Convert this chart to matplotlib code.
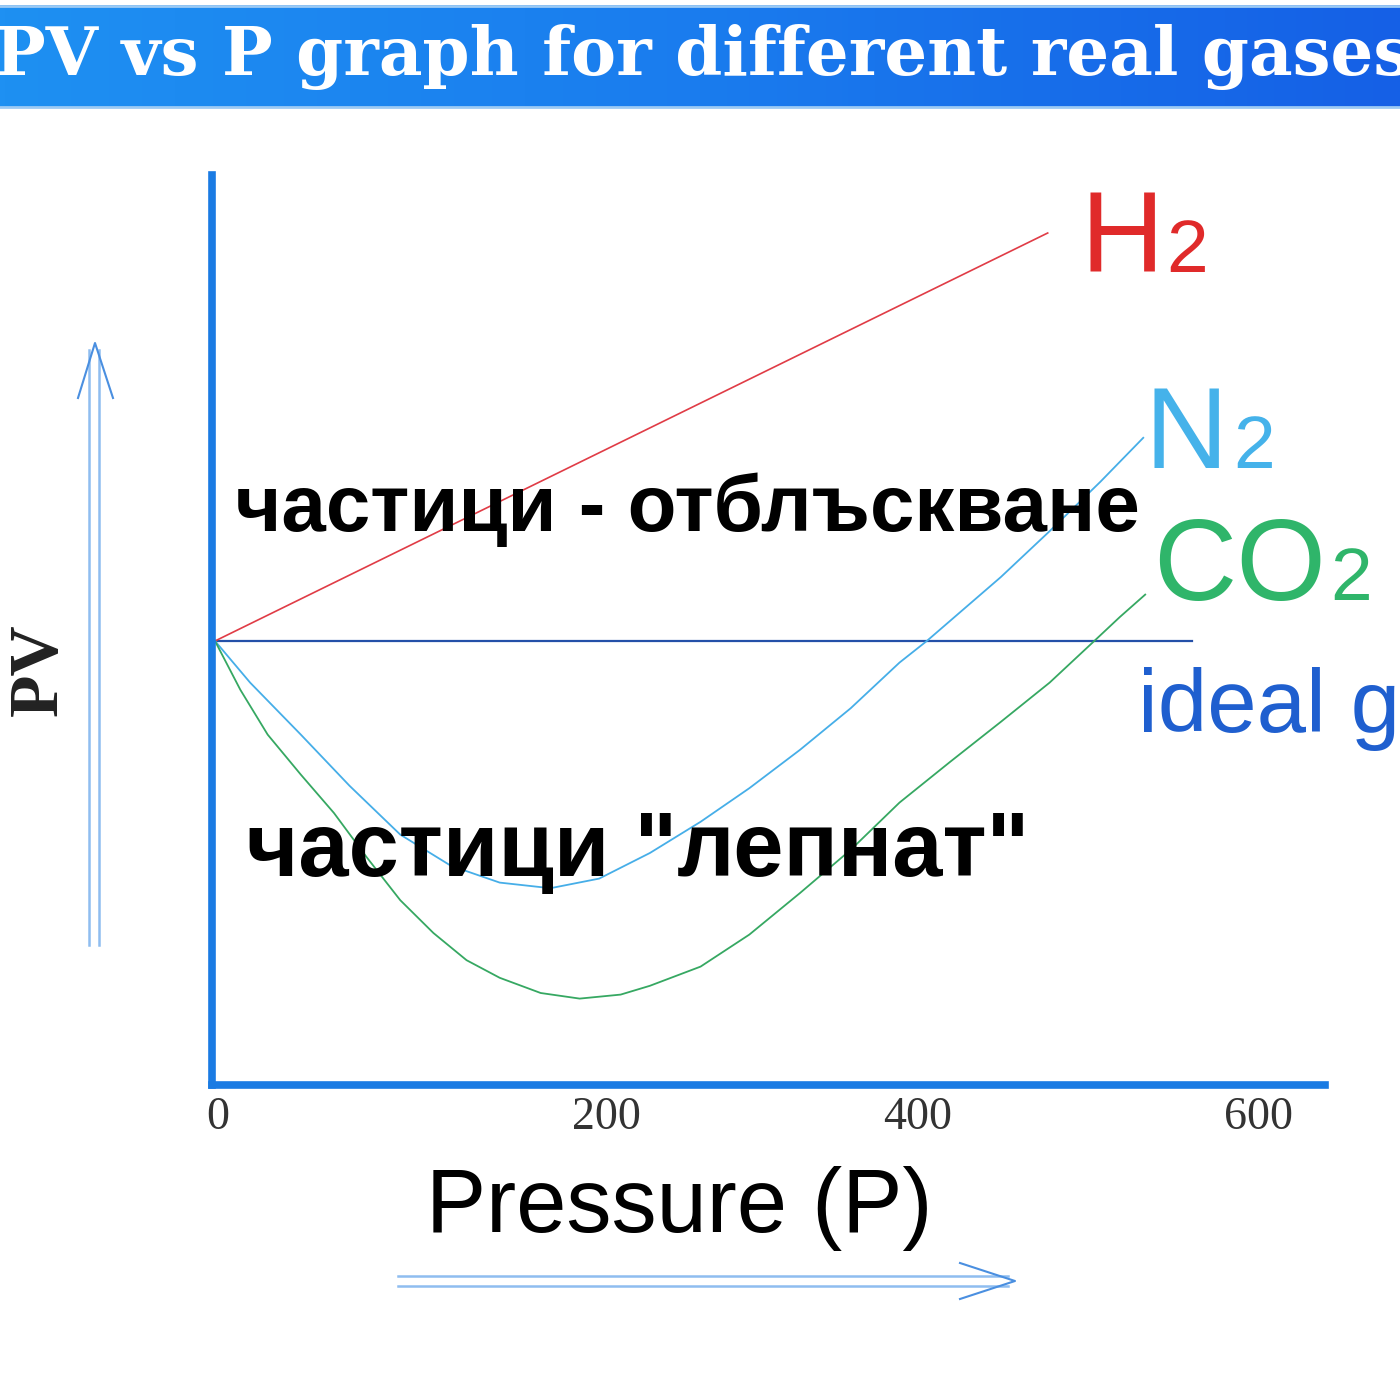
import numpy as np
import matplotlib
matplotlib.use("Agg")
import matplotlib.pyplot as plt
from matplotlib.colors import LinearSegmentedColormap

# Data (pressure in arbitrary P units, PV relative to ideal = 1)
ideal_p = [0, 501]
ideal_pv = [1.0, 1.0]

h2_p = [0, 427]
h2_pv = [1.0, 1.51]

n2_p = [0, 18, 44, 69, 95, 121, 146, 172, 197, 223, 249, 274, 300, 326,
        351, 365, 403, 427, 454, 476]
n2_pv = [1.000, 0.948, 0.883, 0.819, 0.758, 0.719, 0.698, 0.691, 0.703,
         0.735, 0.774, 0.816, 0.864, 0.916, 0.973, 1.000, 1.080, 1.135,
         1.199, 1.254]

co2_p = [0, 13, 27, 44, 61, 78, 95, 112, 129, 146, 167, 187, 208, 223, 249,
         274, 300, 326, 351, 377, 403, 428, 450, 464, 477]
co2_pv = [1.000, 0.939, 0.883, 0.833, 0.785, 0.729, 0.676, 0.635, 0.601,
          0.579, 0.560, 0.553, 0.558, 0.569, 0.593, 0.633, 0.685, 0.739,
          0.798, 0.849, 0.899, 0.948, 0.998, 1.030, 1.058]

tick_pos = [1.5, 200.5, 360.5, 535]
tick_labels = ["0", "200", "400", "600"]

W = H = 1400.0


def fx(px):
    return px / W


def fy(py):
    return 1 - py / H


fig = plt.figure(figsize=(14, 14), dpi=100)
fig.patch.set_facecolor("white")

# title banner
bax = fig.add_axes([0, fy(108), 1, (108 - 5) / H])
grad = np.linspace(0, 1, 256).reshape(1, -1)
cmap = LinearSegmentedColormap.from_list("ban", ["#1e90f2", "#1a7cee", "#1560e6"])
bax.imshow(grad, aspect="auto", cmap=cmap, extent=[0, 1, 0, 1])
bax.set_xlim(0, 1)
bax.set_ylim(0, 1)
bax.axis("off")
fig.text(fx(-5), fy(75), "PV vs P graph for different real gases",
         color="white", fontsize=48.5, fontweight="bold",
         family="DejaVu Serif", va="baseline", ha="left")
fig.add_artist(plt.Line2D([0, 1], [fy(6), fy(6)], color="#9ccaf4", lw=2))
fig.add_artist(plt.Line2D([0, 1], [fy(107), fy(107)], color="#9ccaf4", lw=2))

# main axes
ax = fig.add_axes([fx(212), fy(1085), fx(1325) - fx(212), fy(175) - fy(1085)])
ax.set_xlim(-1.54, 569.2)
ax.set_ylim(0.445, 1.5825)
ax.patch.set_alpha(0)

ax.plot(ideal_p, ideal_pv, color="#2450a8", lw=1.6)
ax.plot(h2_p, h2_pv, color="#e03c46", lw=1.2)
ax.plot(n2_p, n2_pv, color="#46aee8", lw=1.3)
ax.plot(co2_p, co2_pv, color="#36a862", lw=1.3)

for s in ["top", "right"]:
    ax.spines[s].set_visible(False)
for s in ["left", "bottom"]:
    ax.spines[s].set_color("#1a7be3")
    ax.spines[s].set_linewidth(5.5)
    ax.spines[s].set_capstyle("projecting")

ax.set_yticks([])
ax.set_xticks(tick_pos)
ax.set_xticklabels(tick_labels, family="Liberation Serif", fontsize=33,
                   color="#333333")
ax.tick_params(axis="x", length=0, pad=8)

# curve labels
sans = "Liberation Sans"
fig.text(fx(1080), fy(272), "H", color="#e02a2a", fontsize=83, family=sans, va="baseline")
fig.text(fx(1166), fy(272), "2", color="#e02a2a", fontsize=54, family=sans, va="baseline")
fig.text(fx(1145), fy(468), "N", color="#45b2ea", fontsize=83, family=sans, va="baseline")
fig.text(fx(1233), fy(468), "2", color="#45b2ea", fontsize=54, family=sans, va="baseline")
fig.text(fx(1153), fy(600), "CO", color="#2fb56a", fontsize=83, family=sans, va="baseline")
fig.text(fx(1330), fy(600), "2", color="#2fb56a", fontsize=54, family=sans, va="baseline")
fig.text(fx(1138), fy(732), "ideal gas", color="#1f5fcf", fontsize=64, family=sans,
         va="baseline")

# region notes
fig.text(fx(235), fy(531), "частици - отблъскване", color="black", fontsize=57.5,
         fontweight="bold", family=sans, va="baseline")
fig.text(fx(246), fy(876), "частици \"лепнат\"", color="black", fontsize=65,
         fontweight="bold", family=sans, va="baseline")

# axis titles
fig.text(fx(426), fy(1232), "Pressure (P)", color="black", fontsize=65,
         family=sans, va="baseline")
fig.text(fx(40), fy(670), "PV", color="#222222", fontsize=50, fontweight="bold",
         family="Liberation Serif", rotation=90, va="center", ha="center")

# double-line arrows
arrow_col = "#8fbdf0"
head_col = "#4a8fe0"
for xo in (89, 99):
    fig.add_artist(plt.Line2D([fx(xo), fx(xo)], [fy(945), fy(350)], color=arrow_col, lw=1.8))
fig.add_artist(plt.Line2D([fx(78), fx(95), fx(113)], [fy(398), fy(343), fy(398)],
                          color=head_col, lw=1.5))
for yo in (1276, 1286):
    fig.add_artist(plt.Line2D([fx(398), fx(1008)], [fy(yo), fy(yo)], color=arrow_col, lw=1.8))
fig.add_artist(plt.Line2D([fx(960), fx(1015), fx(960)], [fy(1263), fy(1281), fy(1299)],
                          color=head_col, lw=1.5))

fig.savefig("out.png", dpi=100)
